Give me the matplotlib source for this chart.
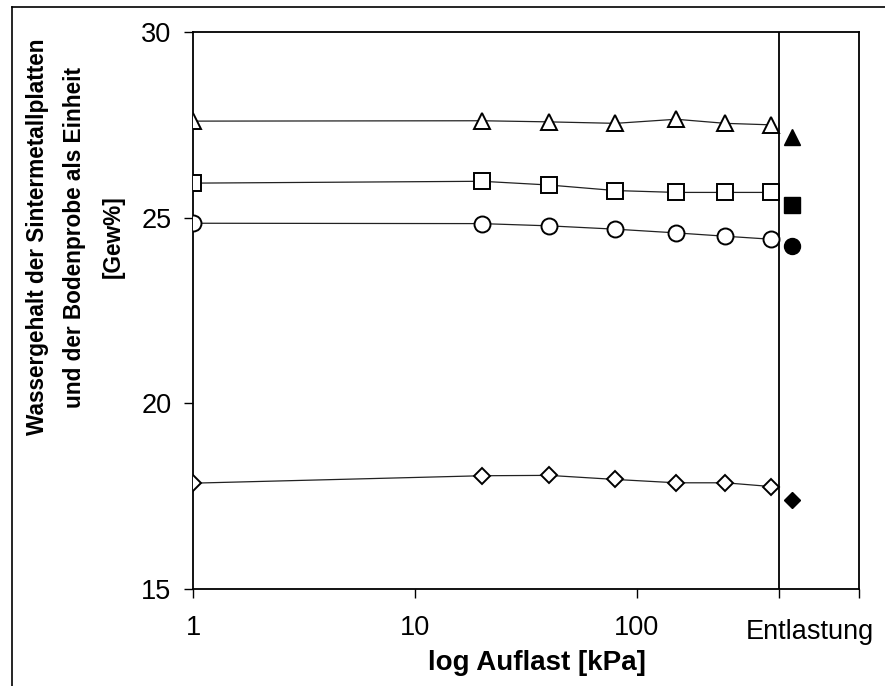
import matplotlib
matplotlib.use("Agg")
import matplotlib.pyplot as plt
from matplotlib import font_manager
from matplotlib.lines import Line2D
from matplotlib.transforms import blended_transform_factory

plt.rcParams["font.family"] = ["Liberation Sans", "DejaVu Sans"]

# load steps [kPa] and water content [Gew%]
load_kpa = [1, 20, 40, 80, 150, 250, 400]
w_tri = [27.60, 27.61, 27.58, 27.54, 27.65, 27.54, 27.50]
w_sq = [25.93, 25.98, 25.88, 25.73, 25.68, 25.68, 25.68]
w_circ = [24.85, 24.84, 24.78, 24.69, 24.59, 24.50, 24.42]
w_dia = [17.85, 18.05, 18.06, 17.95, 17.86, 17.86, 17.76]

# after unloading ("Entlastung")
x_unload = 500
w_unload = {"^": 27.18, "s": 25.33, "o": 24.25, "D": 17.41}
x_unload_line = 437

# narrow font for the y label if one is installed
names = {f.name for f in font_manager.fontManager.ttflist}
narrow = [n for n in ["Liberation Sans Narrow", "DejaVu Sans Condensed"] if n in names]
if narrow:
    ylab_kw = dict(family=[narrow[0], "Liberation Sans"], fontsize=18.5, linespacing=1.6)
else:
    ylab_kw = dict(family=["Liberation Sans"], fontsize=16.3, linespacing=1.82)

fig = plt.figure(figsize=(8.85, 6.86), dpi=100)
ax = fig.add_axes([193 / 885, 1 - 589 / 686, (859 - 193) / 885, (589 - 32) / 686])

for vals, mk, ms in [(w_tri, "^", 11.5), (w_sq, "s", 11), (w_circ, "o", 11.5), (w_dia, "D", 8.3)]:
    ax.plot(load_kpa, vals, color="#222222", lw=0.9, zorder=2)
    ax.plot(load_kpa, vals, ls="none", marker=mk, ms=ms, mfc="white", mec="black", mew=1.4, zorder=3)
    ax.plot([x_unload], [w_unload[mk]], ls="none", marker=mk, ms=ms, mfc="black", mec="black", zorder=3)

ax.axvline(x_unload_line, color="black", lw=1.3, zorder=1)

ax.set_xscale("log")
ax.set_xlim(1, 1000)
ax.set_ylim(15, 30)
ax.set_xticks([1, 10, 100, x_unload_line, 1000])
ax.set_xticklabels(["1", "10", "100", "", ""])
ax.xaxis.set_minor_locator(matplotlib.ticker.NullLocator())
ax.set_yticks([15, 20, 25, 30])
ax.tick_params(axis="both", direction="out", length=6.5, width=1, labelsize=19.5, color="black")
ax.tick_params(axis="x", pad=12)
ax.tick_params(axis="y", pad=9)
for s in ax.spines.values():
    s.set_linewidth(1.3)

tr = blended_transform_factory(ax.transData, ax.transAxes)
ax.text(600, -0.078, "Entlastung", transform=tr, ha="center", va="center", fontsize=19.5)

fig.text(537 / 885, 1 - 663 / 686, "log Auflast [kPa]", ha="center", va="center",
         fontsize=20, fontweight="bold")
fig.text(75 / 885, 1 - 237 / 686,
         "Wassergehalt der Sintermetallplatten\nund der Bodenprobe als Einheit\n[Gew%]",
         rotation=90, ha="center", va="center", multialignment="center",
         fontweight="bold", **ylab_kw)

# outer chart frame (left and top edges visible)
fig.add_artist(Line2D([12 / 885, 12 / 885], [0, 1 - 7 / 686], transform=fig.transFigure,
                      color="black", lw=1.2))
fig.add_artist(Line2D([12 / 885, 1], [1 - 7 / 686, 1 - 7 / 686], transform=fig.transFigure,
                      color="black", lw=1.2))

fig.savefig("out.png", dpi=100)
